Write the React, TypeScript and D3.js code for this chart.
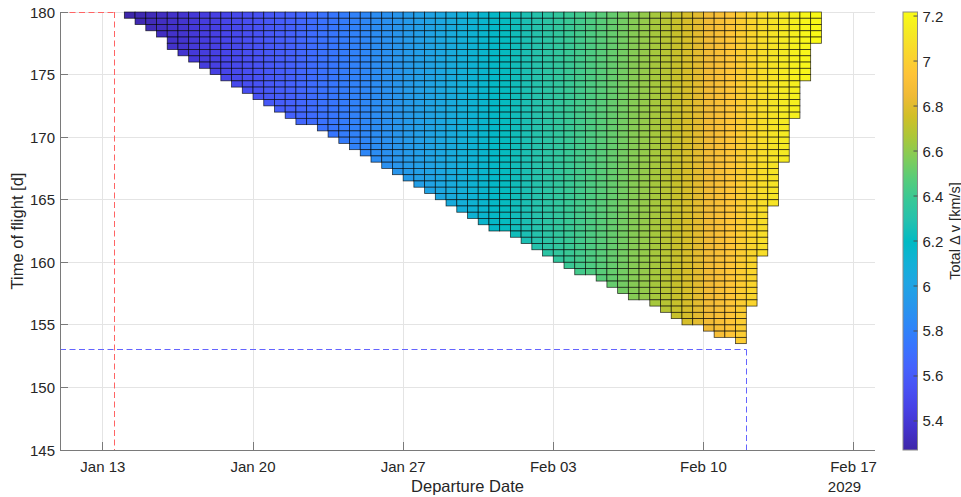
import * as d3 from "d3";

const W = 961;
const H = 497;

// departure grid: Jan 14 2029, half-day steps; TOF grid: half-day steps down from 180 d
const depStart = Date.UTC(2029, 0, 14);
const depStepDays = 0.5;
const tofStep = 0.5;
const tofMax = 180;

// lowest time of flight [d] that has a cell, per departure column
const tofMin = [
  179.5, 179, 178.5, 178, 177, 176.5, 176, 175.5, 175, 174.5,
  174, 173.5, 173, 172.5, 172, 171.5, 171, 171, 170.5, 170,
  169.5, 169, 168.5, 168, 167.5, 167, 166.5, 166, 165.5, 165,
  164.5, 164, 163.5, 163, 162.5, 162.5, 162, 161.5, 161, 160.5,
  160, 159.5, 159, 159, 158.5, 158, 157.5, 157, 157, 156.5,
  156, 155.5, 155, 155, 154.5, 154, 154, 153.5, 156.5, 160.5,
  164.5, 168, 171.5, 174.5, 177.5,
];

// total delta-v [km/s] per departure column
const dvCol = [
  5.28, 5.3, 5.32, 5.34, 5.36, 5.38, 5.41, 5.43, 5.45, 5.48,
  5.5, 5.53, 5.55, 5.58, 5.61, 5.63, 5.66, 5.69, 5.72, 5.74,
  5.77, 5.8, 5.83, 5.86, 5.88, 5.91, 5.94, 5.97, 6.0, 6.03,
  6.06, 6.09, 6.12, 6.15, 6.18, 6.21, 6.24, 6.27, 6.3, 6.33,
  6.36, 6.39, 6.42, 6.45, 6.48, 6.51, 6.54, 6.58, 6.61, 6.65,
  6.69, 6.73, 6.77, 6.81, 6.86, 6.9, 6.95, 6.99, 7.03, 7.07,
  7.1, 7.13, 7.16, 7.19, 7.21,
];

const yTicks = [145, 150, 155, 160, 165, 170, 175, 180];
const xTicks = ["2029-01-13", "2029-01-20", "2029-01-27", "2029-02-03", "2029-02-10", "2029-02-17"];
const cbTicks = [5.4, 5.6, 5.8, 6, 6.2, 6.4, 6.6, 6.8, 7, 7.2];
const dvRange = [5.271, 7.218];

// reference markers (departure, tof)
const redMark = { dep: "2029-01-13T12:00:00Z", tof: 180 };
const blueMark = { dep: "2029-02-12T00:00:00Z", tof: 153 };

// parula colormap (every 3rd entry of the 64-colour table)
const parula = [
  [0.2422, 0.1504, 0.6603], [0.2647, 0.1978, 0.7952], [0.2783, 0.2559, 0.8991],
  [0.281, 0.3228, 0.9579], [0.2699, 0.3892, 0.9906], [0.2206, 0.4603, 0.9973],
  [0.1786, 0.5289, 0.9682], [0.154, 0.5902, 0.9218], [0.1248, 0.6459, 0.8883],
  [0.0689, 0.6948, 0.8394], [0.0067, 0.7312, 0.766], [0.1408, 0.7584, 0.6842],
  [0.2161, 0.7843, 0.5923], [0.3406, 0.8008, 0.4789], [0.5044, 0.7993, 0.348],
  [0.672, 0.7793, 0.2227], [0.8203, 0.7498, 0.1535], [0.9393, 0.7288, 0.21],
  [0.997, 0.7659, 0.2199], [0.9786, 0.8386, 0.1766], [0.9597, 0.9135, 0.1423],
  [0.9769, 0.9839, 0.0805],
].map(([r, g, b]) => d3.rgb(r * 255, g * 255, b * 255).formatHex());

const font = "'Liberation Sans', Arial, Helvetica, sans-serif";

export default function App() {
  const plot = { left: 60, right: 875, top: 12, bottom: 450 };
  const x = d3
    .scaleUtc()
    .domain([new Date(Date.UTC(2029, 0, 11)), new Date(Date.UTC(2029, 1, 18))])
    .range([plot.left, plot.right]);
  const y = d3.scaleLinear().domain([145, 180]).range([plot.bottom, plot.top]);
  const color = d3.scaleSequential(d3.piecewise(d3.interpolateRgb, parula)).domain(dvRange);

  const dayMs = 86400000;
  const cells: { x0: number; x1: number; y0: number; y1: number; fill: string }[] = [];
  tofMin.forEach((tmin, c) => {
    const d0 = new Date(depStart + c * depStepDays * dayMs);
    const d1 = new Date(depStart + (c + 1) * depStepDays * dayMs);
    for (let t = tofMax; t > tmin + 1e-6; t -= tofStep) {
      cells.push({
        x0: x(d0),
        x1: x(d1),
        y0: y(t),
        y1: y(t - tofStep),
        fill: color(dvCol[c]),
      });
    }
  });

  const cb = { x0: 903, x1: 917.5, y0: 12, y1: 450 };
  const cy = d3.scaleLinear().domain(dvRange).range([cb.y1, cb.y0]);
  const fmtDate = d3.utcFormat("%b %d");

  // snap the dashed markers to pixel centres so they stay crisp
  const snap = (v: number) => Math.round(v - 0.5) + 0.5;
  const rx = snap(x(new Date(redMark.dep)) + 1);
  const ry = snap(y(redMark.tof));
  const bx = snap(x(new Date(blueMark.dep)));
  const by = snap(y(blueMark.tof));

  return (
    <svg
      width={W}
      height={H}
      style={{ position: "absolute", left: 0, top: 0, background: "#fff" }}
      fontFamily={font}
    >
      <defs>
        <linearGradient id="parula" x1="0" y1="1" x2="0" y2="0">
          {parula.map((c, i) => (
            <stop key={i} offset={i / (parula.length - 1)} stopColor={c} />
          ))}
        </linearGradient>
      </defs>
      <rect width={W} height={H} fill="#fff" />

      {/* grid */}
      <g stroke="#e4e4e4" strokeWidth={1} shapeRendering="crispEdges">
        {xTicks.map((d) => (
          <line key={d} x1={x(new Date(d))} x2={x(new Date(d))} y1={plot.top} y2={plot.bottom} />
        ))}
        {yTicks.map((t) => (
          <line key={t} x1={plot.left} x2={plot.right} y1={y(t)} y2={y(t)} />
        ))}
      </g>

      {/* pcolor cells */}
      <g stroke="#000" strokeOpacity={0.75} strokeWidth={0.8}>
        {cells.map((c, i) => (
          <rect key={i} x={c.x0} y={c.y0} width={c.x1 - c.x0} height={c.y1 - c.y0} fill={c.fill} />
        ))}
      </g>

      {/* reference lines */}
      <g fill="none" strokeWidth={1} strokeDasharray="6,3.5">
        <path d={`M${plot.left},${ry}H${rx}`} stroke="#ff6464" />
        <path d={`M${rx},${plot.top}V${plot.bottom}`} stroke="#ff6464" />
        <path d={`M${plot.left},${by}H${bx}`} stroke="#6464ff" />
        <path d={`M${bx},${by}V${plot.bottom}`} stroke="#6464ff" />
      </g>

      {/* axes */}
      <g stroke="#7a7a7a" strokeWidth={1} shapeRendering="crispEdges">
        <line x1={plot.left} x2={plot.right} y1={plot.bottom} y2={plot.bottom} />
        <line x1={plot.left} x2={plot.left} y1={plot.top} y2={plot.bottom} />
        {xTicks.map((d) => (
          <line key={d} x1={x(new Date(d))} x2={x(new Date(d))} y1={plot.bottom} y2={plot.bottom - 8} />
        ))}
        {yTicks.map((t) => (
          <line key={t} x1={plot.left} x2={plot.left + 8} y1={y(t)} y2={y(t)} />
        ))}
      </g>
      <g fontSize={15} fill="#262626">
        {xTicks.map((d) => (
          <text key={d} x={x(new Date(d))} y={471.5} textAnchor="middle">
            {fmtDate(new Date(d))}
          </text>
        ))}
        {yTicks.map((t) => (
          <text key={t} x={55} y={y(t) + 5.5} textAnchor="end">
            {t}
          </text>
        ))}
        <text x={844.5} y={491.5} textAnchor="middle">2029</text>
      </g>
      <text x={(plot.left + plot.right) / 2} y={492} textAnchor="middle" fontSize={16.5} fill="#262626">
        Departure Date
      </text>
      <text
        transform={`translate(23,${(plot.top + plot.bottom) / 2}) rotate(-90)`}
        textAnchor="middle"
        fontSize={16.5}
        fill="#262626"
      >
        Time of flight [d]
      </text>

      {/* colorbar */}
      <rect x={cb.x0} y={cb.y0} width={cb.x1 - cb.x0} height={cb.y1 - cb.y0} fill="url(#parula)" stroke="#8a8a8a" strokeWidth={1} />
      <g stroke="#4d4d4d" strokeWidth={1}>
        {cbTicks.map((v) => (
          <line key={v} x1={cb.x1 - 4} x2={cb.x1} y1={cy(v)} y2={cy(v)} />
        ))}
      </g>
      <g fontSize={15} fill="#262626">
        {cbTicks.map((v) => (
          <text key={v} x={922.5} y={cy(v) + 5.5}>
            {String(v)}
          </text>
        ))}
      </g>
      <text
        transform={`translate(959.5,${(cb.y0 + cb.y1) / 2}) rotate(-90)`}
        textAnchor="middle"
        fontSize={14.5}
        fill="#262626"
      >
        Total Δ v [km/s]
      </text>
    </svg>
  );
}
